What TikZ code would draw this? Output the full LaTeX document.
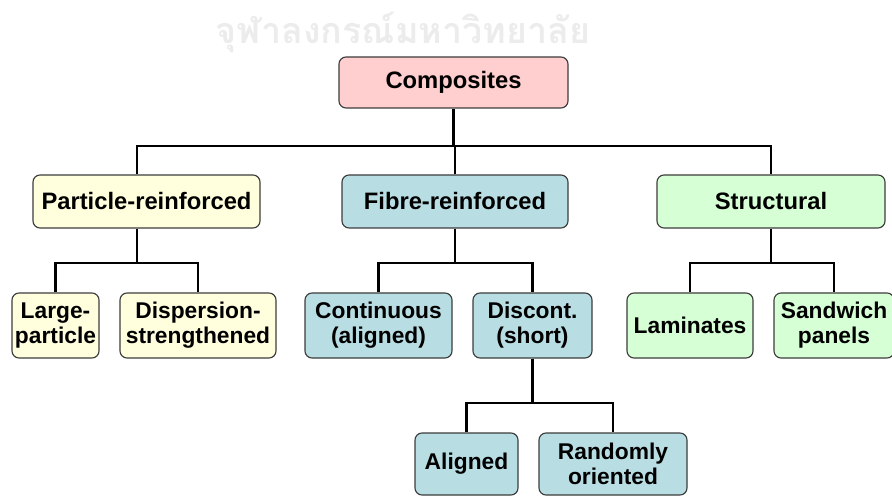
\documentclass[tikz,border=0pt]{standalone}
\usepackage{fontspec}
\setmainfont{Liberation Sans}
\newfontfamily\thaifont[Script=Thai]{Loma}
\usetikzlibrary{positioning, calc}
\definecolor{cPink}  {RGB}{255,206,206}
\definecolor{cYellow}{RGB}{255,255,222}
\definecolor{cBlue}  {RGB}{184,222,228}
\definecolor{cGreen} {RGB}{214,255,214}
\definecolor{cEdge}  {RGB}{60,60,60}
\definecolor{cMark}  {RGB}{236,236,236}

\begin{document}
\begin{tikzpicture}[x=0.025cm, y=-0.025cm,
    font=\fontsize{16.2}{17.7}\selectfont\bfseries,
    BOX/.style={draw=cEdge, line width=0.8pt, rounded corners=5pt, align=center, inner sep=1pt},
    TOP/.style={BOX, font=\fontsize{16.9}{18}\selectfont\bfseries},
    LNK/.style={line width=2pt, black}]
    \useasboundingbox (0,0) rectangle (892,497);
    \clip (0,0) rectangle (892,497);
    % watermark
    \node[text=cMark, font=\thaifont\bfseries\fontsize{25.5}{28}\selectfont] (mark) at (403,32) {จุฬาลงกรณ์มหาวิทยาลัย};
    % level 1 and 2
    \node[TOP, fill=cPink, minimum width=229*0.025cm, minimum height=51*0.025cm] (comp) at (453.5,82.5) {Composites};
    \node[TOP, fill=cYellow, minimum width=227*0.025cm, minimum height=53*0.025cm] (part) at (146.5,201.5) {Particle-reinforced};
    \node[TOP, fill=cBlue, minimum width=226*0.025cm, minimum height=53*0.025cm] (fibre) at (455,201.5) {Fibre-reinforced};
    \node[TOP, fill=cGreen, minimum width=228*0.025cm, minimum height=53*0.025cm] (struct) at (771,201.5) {Structural};
    % level 3
    \node[BOX, fill=cYellow, minimum width=87*0.025cm, minimum height=65*0.025cm] (large) at (55.5,325.5) {Large-\\particle};
    \node[BOX, fill=cYellow, minimum width=156*0.025cm, minimum height=65*0.025cm] (disp) at (198,325.5) {Dispersion-\\strengthened};
    \node[BOX, fill=cBlue, minimum width=147*0.025cm, minimum height=65*0.025cm] (cont) at (378.5,325.5) {Continuous\\(aligned)};
    \node[BOX, fill=cBlue, minimum width=119*0.025cm, minimum height=65*0.025cm] (disc) at (532.5,325.5) {Discont.\\(short)};
    \node[BOX, fill=cGreen, minimum width=126*0.025cm, minimum height=65*0.025cm] (lam) at (690,325.5) {Laminates};
    \node[BOX, fill=cGreen, minimum width=120*0.025cm, minimum height=65*0.025cm] (sand) at (834,325.5) {Sandwich\\panels};
    % level 4
    \node[BOX, fill=cBlue, minimum width=103*0.025cm, minimum height=62*0.025cm] (alig) at (466.5,464) {Aligned};
    \node[BOX, fill=cBlue, minimum width=148*0.025cm, minimum height=62*0.025cm] (rand) at (613,464) {Randomly\\oriented};
    % buses
    \coordinate (busA) at (0,146);
    \coordinate (busB) at (0,263);
    \coordinate (busC) at (0,403);
    \coordinate (partUp) at ($(part.north)+(-9.5,0)$);
    \coordinate (partDn) at ($(part.south)+(-9.5,0)$);
    \draw[LNK] (comp.south) -- (comp.south |- busA);
    \draw[LNK] (partUp) -- (partUp |- busA) -- (struct.north |- busA) -- (struct.north);
    \draw[LNK] (fibre.north) -- (fibre.north |- busA);
    \draw[LNK] (partDn) -- (partDn |- busB);
    \draw[LNK] (large.north) -- (large.north |- busB) -- (disp.north |- busB) -- (disp.north);
    \draw[LNK] (fibre.south) -- (fibre.south |- busB);
    \draw[LNK] (cont.north) -- (cont.north |- busB) -- (disc.north |- busB) -- (disc.north);
    \draw[LNK] (struct.south) -- (struct.south |- busB);
    \draw[LNK] (lam.north) -- (lam.north |- busB) -- (sand.north |- busB) -- (sand.north);
    \draw[LNK] (disc.south) -- (disc.south |- busC);
    \draw[LNK] (alig.north) -- (alig.north |- busC) -- (rand.north |- busC) -- (rand.north);
\end{tikzpicture}
\end{document}
